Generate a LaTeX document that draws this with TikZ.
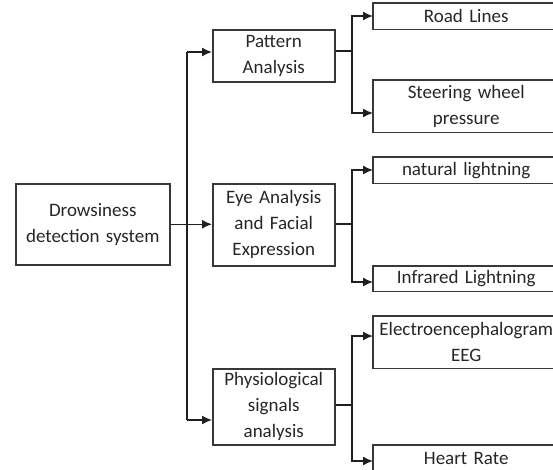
\documentclass[tikz,border=0pt]{standalone}
\usepackage{fontspec}
\setmainfont{Carlito}
\usetikzlibrary{arrows.meta}

\begin{document}
\begin{tikzpicture}[x=1pt,y=-1pt,font=\fontsize{19}{26}\selectfont,
  box/.style={draw=black!78, line width=1.5pt, text=black!85, align=center, inner xsep=3pt, inner ysep=0pt, anchor=north west},
  leaf/.style={text=black!85, align=center, inner xsep=0pt, inner ysep=0pt, anchor=north west, text width=186pt},
  wire/.style={line width=1.5pt, black!88},
  arr/.style={wire, -{Latex[length=10pt,width=9pt]}}]
\clip (0,0) rectangle (553,469);
\node[box, text width=148pt, minimum height=81pt] (ds) at (15,183) {Drowsiness\\detection system};
\node[box, text width=116pt, minimum height=52pt] (pa) at (212,29) {Pattern\\Analysis};
\node[box, text width=116pt, minimum height=82pt] (ea) at (212,183) {Eye Analysis\\and Facial\\Expression};
\node[box, text width=116pt, minimum height=76pt] (ps) at (212,368) {Physiological\\signals\\analysis};
\node[leaf, minimum height=26pt] (rl) at (373,3) {Road Lines};
\node[leaf, minimum height=52pt] (sw) at (373,80) {Steering wheel\\pressure};
\node[leaf, minimum height=26pt] (nl) at (373,157) {natural lightning};
\node[leaf, minimum height=25pt] (il) at (373,266) {Infrared Lightning};
\node[leaf, minimum height=52pt] (eeg) at (373,316) {Electroencephalogram\\EEG};
\node[leaf, minimum height=26pt] (hr) at (373,445) {Heart Rate};
\foreach \n in {rl,sw,nl,il,eeg,hr}
  \draw[draw=black!78, line width=1.5pt] ([xshift=230pt]\n.north west) -- (\n.north west) -- (\n.south west) -- ([xshift=230pt]\n.south west);
\coordinate (top) at (187,52);
\coordinate (bot) at (187,420);
\draw[arr] (ds.east) -- (ds.east -| ea.west);
\draw[wire] (top) -- (bot);
\draw[arr] (top) -- (top -| pa.west);
\draw[arr] (bot) -- (bot -| ps.west);
\draw[arr] ([yshift=5pt]pa.east) -| (352,16) -- (352,16 -| rl.west);
\draw[arr] ([yshift=5pt]pa.east) -| (352,113) -- (352,113 -| sw.west);
\draw[arr] ([yshift=1pt]ea.east) -| (352,170) -- (352,170 -| nl.west);
\draw[arr] ([yshift=1pt]ea.east) -| (352,282) -- (352,282 -| il.west);
\draw[arr] ([yshift=2pt]ps.east) -| (352,336) -- (352,336 -| eeg.west);
\draw[arr] ([yshift=2pt]ps.east) -| (352,461) -- (352,461 -| hr.west);
\end{tikzpicture}
\end{document}
